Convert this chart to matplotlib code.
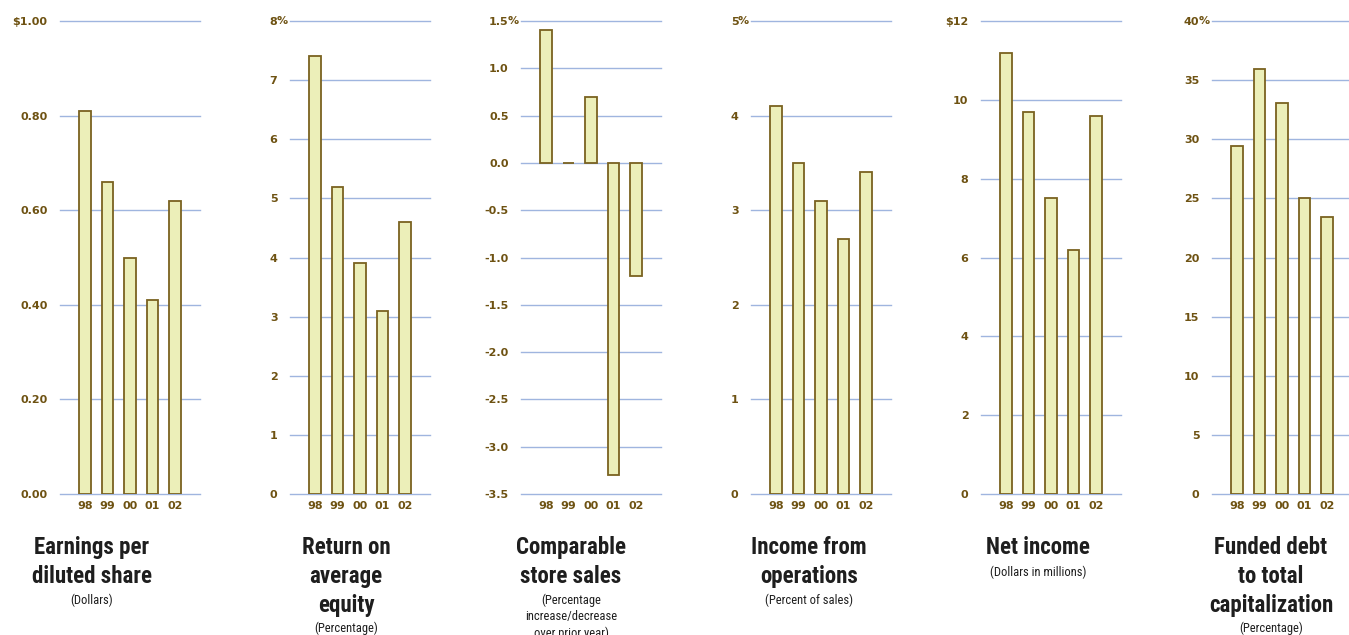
import matplotlib
matplotlib.use('Agg')
import matplotlib.pyplot as plt
import numpy as np

years = ['98', '99', '00', '01', '02']

eps = [0.81, 0.66, 0.50, 0.41, 0.62]
roe = [7.4, 5.2, 3.9, 3.1, 4.6]
comp_sales = [1.4, 0.0, 0.7, -3.3, -1.2]
income_ops = [4.1, 3.5, 3.1, 2.7, 3.4]
net_income = [11.2, 9.7, 7.5, 6.2, 9.6]
funded_debt = [29.4, 35.9, 33.1, 25.0, 23.4]

eps_ticks = [0.0, 0.2, 0.4, 0.6, 0.8, 1.0]
eps_labels = ['0.00', '0.20', '0.40', '0.60', '0.80', '$1.00']
roe_ticks = [0, 1, 2, 3, 4, 5, 6, 7, 8]
roe_labels = ['0', '1', '2', '3', '4', '5', '6', '7', '8']
comp_ticks = [-3.5, -3.0, -2.5, -2.0, -1.5, -1.0, -0.5, 0.0, 0.5, 1.0, 1.5]
comp_labels = ['-3.5', '-3.0', '-2.5', '-2.0', '-1.5', '-1.0', '-0.5', '0.0', '0.5', '1.0', '1.5']
ops_ticks = [0, 1, 2, 3, 4, 5]
ops_labels = ['0', '1', '2', '3', '4', '5']
net_ticks = [0, 2, 4, 6, 8, 10, 12]
net_labels = ['0', '2', '4', '6', '8', '10', '$12']
debt_ticks = [0, 5, 10, 15, 20, 25, 30, 35, 40]
debt_labels = ['0', '5', '10', '15', '20', '25', '30', '35', '40']

titles = ['Earnings per\ndiluted share', 'Return on\naverage\nequity', 'Comparable\nstore sales',
          'Income from\noperations', 'Net income', 'Funded debt\nto total\ncapitalization']
subtitles = ['(Dollars)', '(Percentage)', '(Percentage\nincrease/decrease\nover prior year)',
             '(Percent of sales)', '(Dollars in millions)', '(Percentage)']

panels = [
    (eps, eps_ticks, eps_labels, False),
    (roe, roe_ticks, roe_labels, True),
    (comp_sales, comp_ticks, comp_labels, True),
    (income_ops, ops_ticks, ops_labels, True),
    (net_income, net_ticks, net_labels, False),
    (funded_debt, debt_ticks, debt_labels, True),
]

W, H = 1349, 635
fig = plt.figure(figsize=(W / 100, H / 100), dpi=100)

text_col = '#6e5212'
bar_fill = '#ecefb9'
bar_edge = '#7a6220'
grid_col = '#9fb5df'
title_col = '#1e1e1e'

ax_left = [60, 290, 521, 751, 981, 1212]
title_x = [92, 346, 571, 809, 1038, 1271]
ax_w = 140
ax_top, ax_bot = 21, 494
tick_pad = 9

narrow = ['Roboto Condensed', 'DejaVu Sans']

for i, (vals, ticks, labels, pct) in enumerate(panels):
    ax = fig.add_axes([ax_left[i] / W, 1 - ax_bot / H, ax_w / W, (ax_bot - ax_top) / H])
    x = np.arange(len(years))
    ax.bar(x, vals, width=0.53, color=bar_fill, edgecolor=bar_edge, linewidth=1.3, zorder=3)
    ax.set_xlim(-1.11, 5.11)
    ax.set_ylim(ticks[0], ticks[-1])
    ax.set_yticks(ticks)
    ax.set_yticklabels(labels)
    ax.set_xticks(x)
    ax.set_xticklabels(years)
    for t in ticks:
        ax.axhline(t, color=grid_col, linewidth=1.0, zorder=1, clip_on=False)
    for s in ax.spines.values():
        s.set_visible(False)
    ax.tick_params(axis='both', length=0, colors=text_col, labelsize=8)
    ax.tick_params(axis='y', pad=tick_pad)
    ax.tick_params(axis='x', pad=5)
    for lab in ax.get_xticklabels() + ax.get_yticklabels():
        lab.set_fontweight('bold')
    if pct:
        ax.annotate('%', xy=(0, ticks[-1]), xycoords=('axes fraction', 'data'),
                    xytext=(-tick_pad - 0.5, 0), textcoords='offset points',
                    ha='left', va='center', fontsize=8, fontweight='bold', color=text_col)

    n = titles[i].count('\n') + 1
    fig.text(title_x[i] / W, 1 - 536 / H, titles[i], ha='center', va='top',
             fontsize=16.5, fontweight='bold', family=narrow,
             color=title_col, linespacing=1.33)
    sub_y = 537 + 28 * (n - 1) + 29
    fig.text(title_x[i] / W, 1 - sub_y / H, subtitles[i], ha='center', va='top',
             fontsize=9, family=narrow, color=title_col, linespacing=1.3)

fig.savefig('out.png', dpi=100)
